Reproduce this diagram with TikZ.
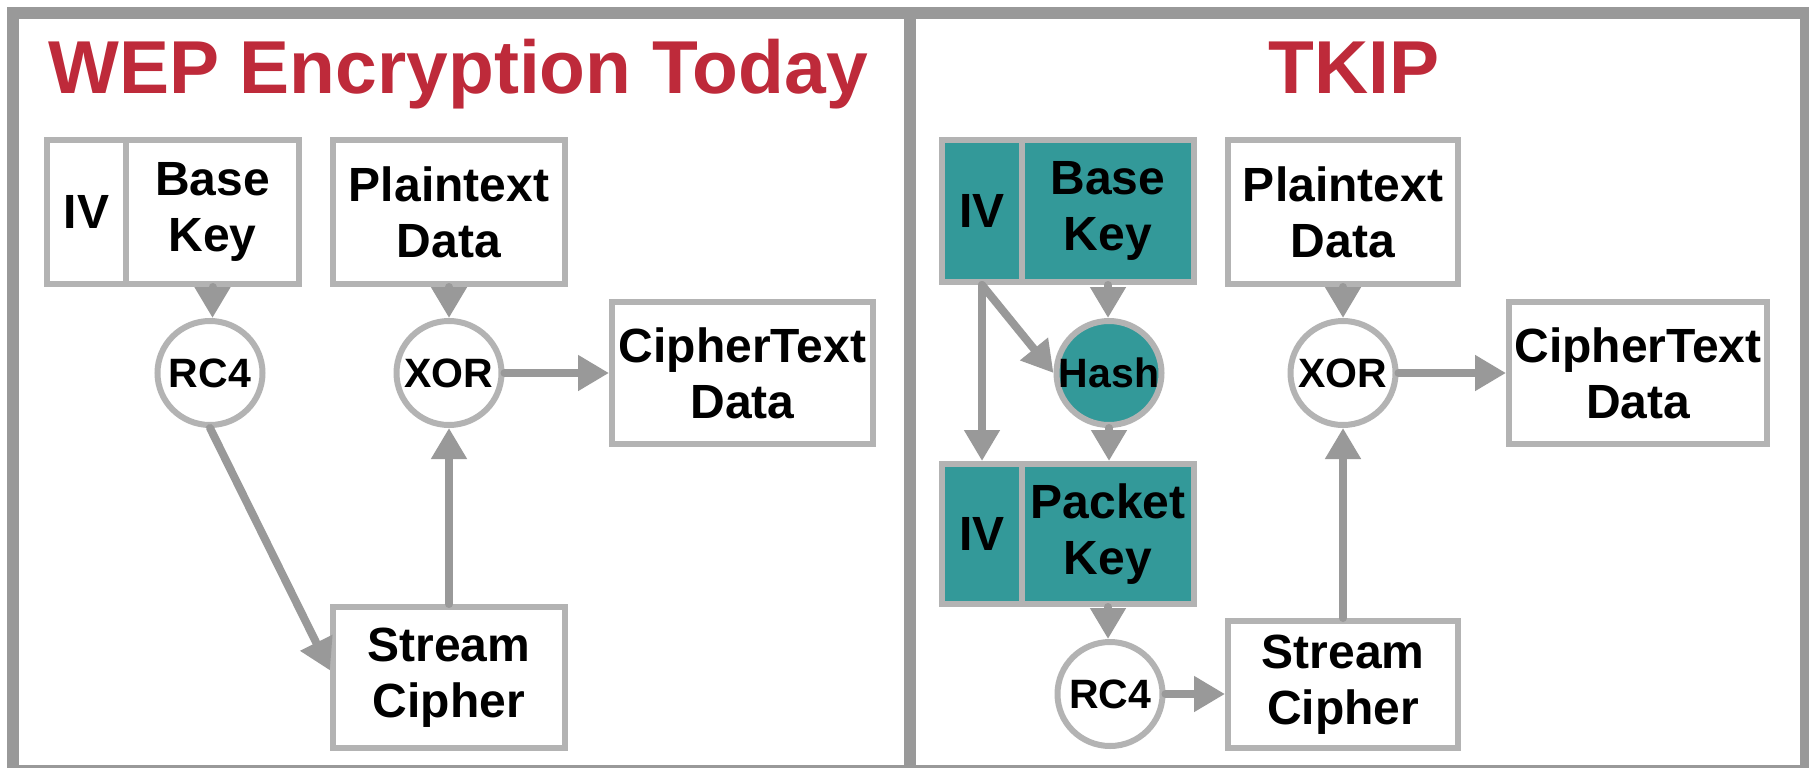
\documentclass[tikz,border=0pt]{standalone}
\usepackage{fontspec}
\setmainfont{Liberation Sans}
\usetikzlibrary{arrows.meta,shapes.geometric,calc}

\definecolor{framegray}{HTML}{999999}
\definecolor{boxgray}{HTML}{B3B3B3}
\definecolor{arrowgray}{HTML}{999999}
\definecolor{titlered}{HTML}{BE2A3A}
\definecolor{teal}{HTML}{339999}

\tikzset{
  panelframe/.style={draw=framegray, line width=12pt},
  titletext/.style={anchor=base, text=titlered, font=\fontsize{75}{80}\selectfont\bfseries, inner sep=0pt},
  blockbox/.style={draw=boxgray, line width=6pt, rectangle, inner sep=0pt, align=center,
    font=\fontsize{48}{56}\selectfont\bfseries},
  % operation bubbles: fixed-size ellipse, caption set as a centred label
  opnode/.style={draw=boxgray, line width=6pt, ellipse, inner sep=0pt,
    minimum width=105pt, minimum height=104pt,
    label={[font=\fontsize{41}{48}\selectfont\bfseries, inner sep=0pt]center:#1}},
  keyfill/.style={fill=teal},
  flow/.style={draw=arrowgray, line width=8pt, line cap=round,
    -{Triangle[length=31pt,width=34pt]}},
}

\begin{document}
\begin{tikzpicture}[x=1pt, y=-1pt]
\useasboundingbox (0,0) rectangle (1809,768);
\fill[white] (0,0) rectangle (1809,768);

% outer frame and panel divider
\draw[panelframe] (13,13) rectangle (1806,771);
\draw[panelframe] (910,13) -- (910,771);

% titles
\node[titletext] (wtitle) at (458,93) {WEP Encryption Today};
\node[titletext] (ttitle) at (1354,93) {TKIP};

% ---- WEP ----
\node[blockbox, minimum width=79pt, minimum height=144pt] (iv1) at (86.5,212) {IV};
\node[blockbox, minimum width=173pt, minimum height=144pt] (bk1) at (212.5,212) {Base\\Key};
\node[blockbox, minimum width=232pt, minimum height=144pt] (pt1) at (449,212) {Plaintext\\Data};
\node[blockbox, minimum width=261pt, minimum height=142pt] (ct1) at (742.5,373) {CipherText\\Data};
\node[opnode=RC4] (rc41) at (210,373) {};
\node[opnode=XOR] (xor1) at (449,373) {};
\node[blockbox, minimum width=232pt, minimum height=141pt] (sc1) at (449,677.5) {Stream\\Cipher};

\draw[flow] (bk1.south) -- (bk1.south |- rc41.north);
\draw[flow] (pt1.south) -- (xor1.north);
\draw[flow] (xor1.east) -- (ct1.west);
\draw[flow] (rc41.south) -- ([yshift=7pt]sc1.west);
\draw[flow] (sc1.north) -- (xor1.south);

% ---- TKIP ----
\node[blockbox, keyfill, minimum width=80pt, minimum height=142pt] (iv2) at (982,211) {IV};
\node[blockbox, keyfill, minimum width=172pt, minimum height=142pt] (bk2) at (1108,211) {Base\\Key};
\node[blockbox, minimum width=230pt, minimum height=144pt] (pt2) at (1343,212) {Plaintext\\Data};
\node[blockbox, minimum width=258pt, minimum height=142pt] (ct2) at (1638,373) {CipherText\\Data};
\node[opnode=Hash, keyfill] (hash) at (1109,373) {};
\node[opnode=XOR] (xor2) at (1343,373) {};
\node[blockbox, keyfill, minimum width=80pt, minimum height=140pt] (iv3) at (982,534) {IV};
\node[blockbox, keyfill, minimum width=172pt, minimum height=140pt] (pk) at (1108,534) {Packet\\Key};
\node[opnode=RC4] (rc42) at (1110,694) {};
\node[blockbox, minimum width=230pt, minimum height=127pt] (sc2) at (1343,684.5) {Stream\\Cipher};

\draw[flow] (iv2.south) -- (iv3.north);
\draw[flow] (iv2.south) -- (hash.west);
\draw[flow] (bk2.south) -- (bk2.south |- hash.north);
\draw[flow] (hash.south) -- (hash.south |- pk.north);
\draw[flow] (pk.south) -- (pk.south |- rc42.north);
\draw[flow] (rc42.east) -- (rc42.east -| sc2.west);
\draw[flow] (pt2.south) -- (xor2.north);
\draw[flow] (xor2.east) -- (ct2.west);
\draw[flow] (sc2.north) -- (xor2.south);
\end{tikzpicture}
\end{document}
